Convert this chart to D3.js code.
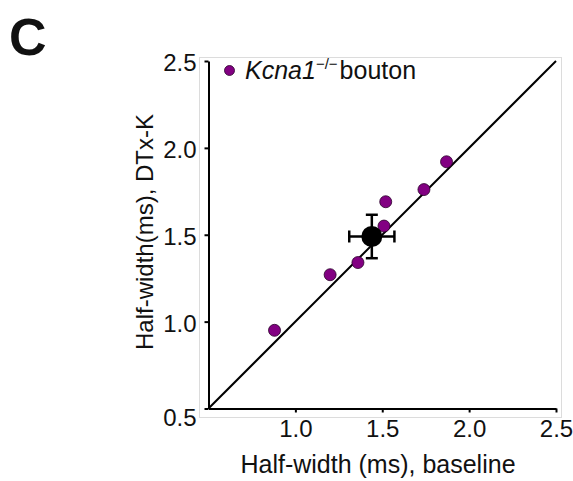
<!DOCTYPE html>
<html>
<head>
<meta charset="utf-8">
<style>
body { margin: 0; background: #fff; }
text { font-family: "Liberation Sans", Arial, sans-serif; fill: #111; }
.axis path, .axis line { stroke: #000; stroke-width: 2px; }
.axis text { font-size: 24px; }
</style>
<title></title>
</head>
<body>
<script src="https://cdn.jsdelivr.net/npm/d3@7"></script>
<script>

// single boutons: baseline vs DTx-K half-width (ms)
var baseline = [0.88, 1.20, 1.36, 1.51, 1.52, 1.74, 1.87];
var dtxk     = [0.95, 1.27, 1.34, 1.55, 1.69, 1.76, 1.92];

// mean +/- sem
var meanX = 1.44, meanY = 1.49;
var semX = 0.13, semY = 0.125;

var xTicks = [1.0, 1.5, 2.0, 2.5];
var yTicks = [0.5, 1.0, 1.5, 2.0, 2.5];
var axisRange = [0.5, 2.5];

var width = 573, height = 481;

var svg = d3.select("body").append("svg")
    .attr("width", width)
    .attr("height", height);

var x = d3.scaleLinear().domain(axisRange).range([208.5, 556]);
var y = d3.scaleLinear().domain(axisRange).range([408.5, 61]);

// faint frame round the plot
svg.append("rect")
    .attr("x", 199.5).attr("y", 57.5)
    .attr("width", 362).attr("height", 360)
    .attr("fill", "none")
    .attr("stroke", "#dcdcdc")
    .attr("stroke-width", 1);

// panel letter
svg.append("text")
    .attr("x", 9).attr("y", 55)
    .style("font-size", "52px")
    .style("font-weight", "bold")
    .text("C");

// unity line
svg.append("line")
    .attr("x1", x(axisRange[0])).attr("y1", y(axisRange[0]))
    .attr("x2", x(axisRange[1])).attr("y2", y(axisRange[1]))
    .attr("stroke", "#000")
    .attr("stroke-width", 2);

var fmt = d3.format(".1f");

var xAxis = svg.append("g")
    .attr("class", "axis")
    .attr("transform", "translate(0," + y(0.5) + ")")
    .call(d3.axisBottom(x).tickValues(xTicks).tickFormat(fmt)
        .tickSize(4).tickSizeOuter(0).tickPadding(7));
xAxis.selectAll("text").attr("fill", "#111");

var yAxis = svg.append("g")
    .attr("class", "axis")
    .attr("transform", "translate(" + x(0.5) + ",0)")
    .call(d3.axisLeft(y).tickValues(yTicks).tickFormat(fmt)
        .tickSize(4).tickSizeOuter(0).tickPadding(8));
yAxis.selectAll("text").attr("fill", "#111")
    .attr("dy", function(d) { return d == 0.5 ? "0.7em" : "0.4em"; });

// axis titles
svg.append("text")
    .attr("x", 378).attr("y", 473)
    .attr("text-anchor", "middle")
    .style("font-size", "25px")
    .text("Half-width (ms), baseline");

svg.append("text")
    .attr("transform", "translate(153,232) rotate(-90)")
    .attr("text-anchor", "middle")
    .style("font-size", "24px")
    .text("Half-width(ms), DTx-K");

// individual boutons
svg.append("g")
    .selectAll("circle")
    .data(baseline)
    .enter().append("circle")
    .attr("cx", function(d) { return x(d); })
    .attr("cy", function(d, i) { return y(dtxk[i]); })
    .attr("r", 6)
    .attr("fill", "#820082")
    .attr("stroke", "#2a002a")
    .attr("stroke-width", 0.8);

// mean with error bars
var err = svg.append("g")
    .attr("stroke", "#000")
    .attr("stroke-width", 2.5);
var cap = 6;
err.append("line")
    .attr("x1", x(meanX - semX)).attr("x2", x(meanX + semX))
    .attr("y1", y(meanY)).attr("y2", y(meanY));
err.append("line")
    .attr("x1", x(meanX)).attr("x2", x(meanX))
    .attr("y1", y(meanY - semY)).attr("y2", y(meanY + semY));
[meanX - semX, meanX + semX].forEach(function(v) {
  err.append("line")
      .attr("x1", x(v)).attr("x2", x(v))
      .attr("y1", y(meanY) - cap).attr("y2", y(meanY) + cap);
});
[meanY - semY, meanY + semY].forEach(function(v) {
  err.append("line")
      .attr("x1", x(meanX) - cap).attr("x2", x(meanX) + cap)
      .attr("y1", y(v)).attr("y2", y(v));
});
svg.append("circle")
    .attr("cx", x(meanX)).attr("cy", y(meanY))
    .attr("r", 10.5)
    .attr("fill", "#000");

// legend
svg.append("circle")
    .attr("cx", 229.5).attr("cy", 70.5)
    .attr("r", 5)
    .attr("fill", "#820082")
    .attr("stroke", "#2a002a")
    .attr("stroke-width", 0.8);

var leg = svg.append("text")
    .attr("x", 245).attr("y", 79)
    .style("font-size", "25px");
leg.append("tspan")
    .style("font-style", "italic")
    .text("Kcna1");
leg.append("tspan")
    .attr("dy", -10)
    .style("font-size", "15px")
    .text("\u2212/\u2212");
leg.append("tspan")
    .attr("dy", 10)
    .attr("dx", 2)
    .text("bouton");

</script>
</body>
</html>
